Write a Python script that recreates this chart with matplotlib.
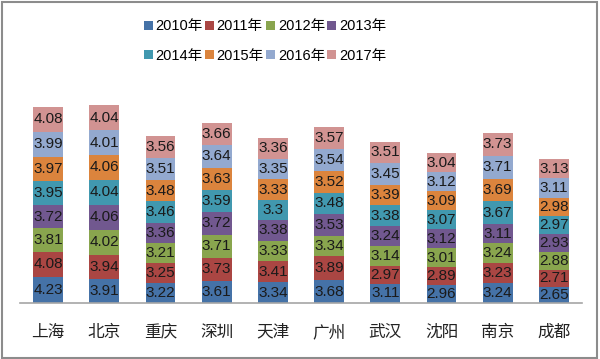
import matplotlib
matplotlib.use("Agg")
import matplotlib.pyplot as plt
from matplotlib.patches import Rectangle
import numpy as np

plt.rcParams['font.family'] = ['Liberation Sans', 'Noto Sans CJK SC', 'DejaVu Sans']

cities = ["上海", "北京", "重庆", "深圳", "天津", "广州", "武汉", "沈阳", "南京", "成都"]
years = ["2010年", "2011年", "2012年", "2013年", "2014年", "2015年", "2016年", "2017年"]
v2010 = [4.23, 3.91, 3.22, 3.61, 3.34, 3.68, 3.11, 2.96, 3.24, 2.65]
v2011 = [4.08, 3.94, 3.25, 3.73, 3.41, 3.89, 2.97, 2.89, 3.23, 2.71]
v2012 = [3.81, 4.02, 3.21, 3.71, 3.33, 3.34, 3.14, 3.01, 3.24, 2.88]
v2013 = [3.72, 4.06, 3.36, 3.72, 3.38, 3.53, 3.24, 3.12, 3.11, 2.93]
v2014 = [3.95, 4.04, 3.46, 3.59, 3.3, 3.48, 3.38, 3.07, 3.67, 2.97]
v2015 = [3.97, 4.06, 3.48, 3.63, 3.33, 3.52, 3.39, 3.09, 3.69, 2.98]
v2016 = [3.99, 4.01, 3.51, 3.64, 3.35, 3.54, 3.45, 3.12, 3.71, 3.11]
v2017 = [4.08, 4.04, 3.56, 3.66, 3.36, 3.57, 3.51, 3.04, 3.73, 3.13]
series = [v2010, v2011, v2012, v2013, v2014, v2015, v2016, v2017]
colors = ["#4572A7", "#AA4643", "#89A54E", "#71588F", "#4198AF", "#DB843D", "#93A9CF", "#D19392"]

W, H = 600, 359
fig = plt.figure(figsize=(W / 100, H / 100), dpi=100)
ax = fig.add_axes([20 / W, (H - 303) / H, 562 / W, 233 / H])

x = np.arange(len(cities))
bottom = np.zeros(len(cities))
handles = []
for vals, col, yr in zip(series, colors, years):
    vals = np.array(vals)
    bars = ax.bar(x, vals, width=0.53, bottom=bottom, color=col, label=yr, linewidth=0)
    handles.append(bars)
    for xi, b, v in zip(x, bottom, vals):
        ax.text(xi, b + v / 2, f"{v:g}", ha="center", va="center", fontsize=11, color="#1a1a1a")
    bottom += vals

ax.set_xlim(-0.5, len(cities) - 0.5)
ax.set_ylim(0, 233 / 6.16)
ax.set_yticks([])
ax.set_xticks(x)
ax.set_xticklabels(cities, fontsize=12, family=['Noto Sans CJK SC', 'DejaVu Sans'], color="#222222")
ax.tick_params(axis='x', length=0, pad=15)
for s in ["top", "right", "left"]:
    ax.spines[s].set_visible(False)
ax.spines["bottom"].set_color("#A6A6A6")
ax.spines["bottom"].set_linewidth(1.2)

order = [0, 4, 1, 5, 2, 6, 3, 7]
leg = fig.legend([handles[i] for i in order], [years[i] for i in order],
                 loc="center", bbox_to_anchor=(265 / W, 1 - 41 / H), ncol=4, frameon=False,
                 handlelength=0.6, handleheight=0.6, handletextpad=0.2,
                 columnspacing=0.15, labelspacing=1.05,
                 prop={'family': ['Liberation Sans', 'Noto Sans CJK SC'], 'size': 10.5})

fig.patches.append(Rectangle((1.5 / W, 1.5 / H), 595.5 / W, 355.5 / H, transform=fig.transFigure,
                             fill=False, edgecolor="#8C8C8C", linewidth=1.5))
fig.savefig("out.png", dpi=100)
